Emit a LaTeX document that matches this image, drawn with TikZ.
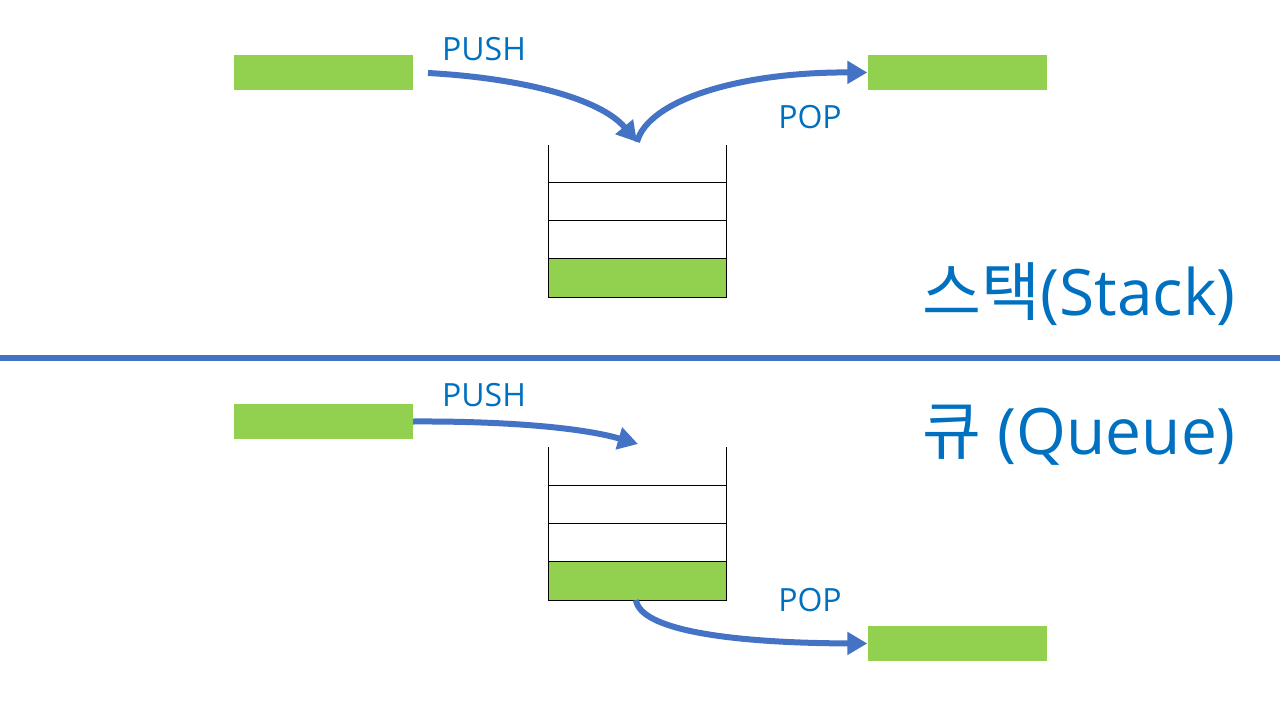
\documentclass[tikz,border=0pt]{standalone}
\usepackage{fontspec}
\setmainfont{Open Sans}
\newfontfamily\kr{Noto Sans CJK KR}
\usetikzlibrary{arrows.meta}
\definecolor{grn}{HTML}{92D050}
\definecolor{arr}{HTML}{4472C4}
\definecolor{txt}{HTML}{0070C0}
\begin{document}
\begin{tikzpicture}[x=1pt,y=-1pt,
  bar/.style={fill=grn, draw=none, minimum width=179pt, minimum height=35pt, inner sep=0pt},
  flow/.style={draw=arr, line width=6pt, -{Triangle[length=20pt,width=22pt]}},
  lbl/.style={text=txt, font=\fontsize{32}{38}\selectfont, inner sep=0pt},
  ttl/.style={text=txt, font=\fontsize{64}{76}\selectfont, inner sep=0pt, anchor=base east},
  cell/.style={draw=black, line width=1pt}]
\useasboundingbox (0,0) rectangle (1280,720);
\fill[white] (0,0) rectangle (1280,720);

% ---------- Stack ----------
\node[bar] (sin) at (323.5,72.5) {};
\node[bar] (sout) at (957,72.5) {};
\node[lbl] (spush) at (484,49) {PUSH};
\node[lbl] (spop) at (810,117) {POP};
\fill[grn] (548,258) rectangle (726,297);
\draw[cell] (548,145) -- (548,297) -- (726,297) -- (726,145);
\draw[cell] (548,182) -- (726,182);
\draw[cell] (548,220) -- (726,220);
\draw[cell] (548,258) -- (726,258);
\coordinate (stop) at (637,142);
\coordinate (sstart) at (428,73);
\draw[flow] (sstart) .. controls (520,78) and (600,98) .. (stop);
\draw[flow] (stop) .. controls (648,100) and (740,72) .. (sout.west);
\node[ttl] (stitle) at (1236,315) {{\kr 스택}(Stack)};

% ---------- separator ----------
\coordinate (sepl) at (0,358);
\coordinate (sepr) at (1280,358);
\draw[arr, line width=6pt] (sepl) -- (sepr);

% ---------- Queue ----------
\node[bar] (qin) at (323.5,421.5) {};
\node[bar] (qout) at (957,643.5) {};
\node[lbl] (qpush) at (484,395) {PUSH};
\node[lbl] (qpop) at (810,600) {POP};
\fill[grn] (548,561) rectangle (726,600);
\draw[cell] (548,447) -- (548,600) -- (726,600) -- (726,447);
\draw[cell] (548,485) -- (726,485);
\draw[cell] (548,523) -- (726,523);
\draw[cell] (548,561) -- (726,561);
\coordinate (qtop) at (638,444);
\coordinate (qbot) at (636,600);
\draw[flow] (qin.east) .. controls (500,421) and (580,427) .. (qtop);
\draw[flow] (qbot) .. controls (640,630) and (730,643) .. (qout.west);
\node[ttl] (qtitle) at (1236,454) {{\kr 큐} (Queue)};
\end{tikzpicture}
\end{document}
